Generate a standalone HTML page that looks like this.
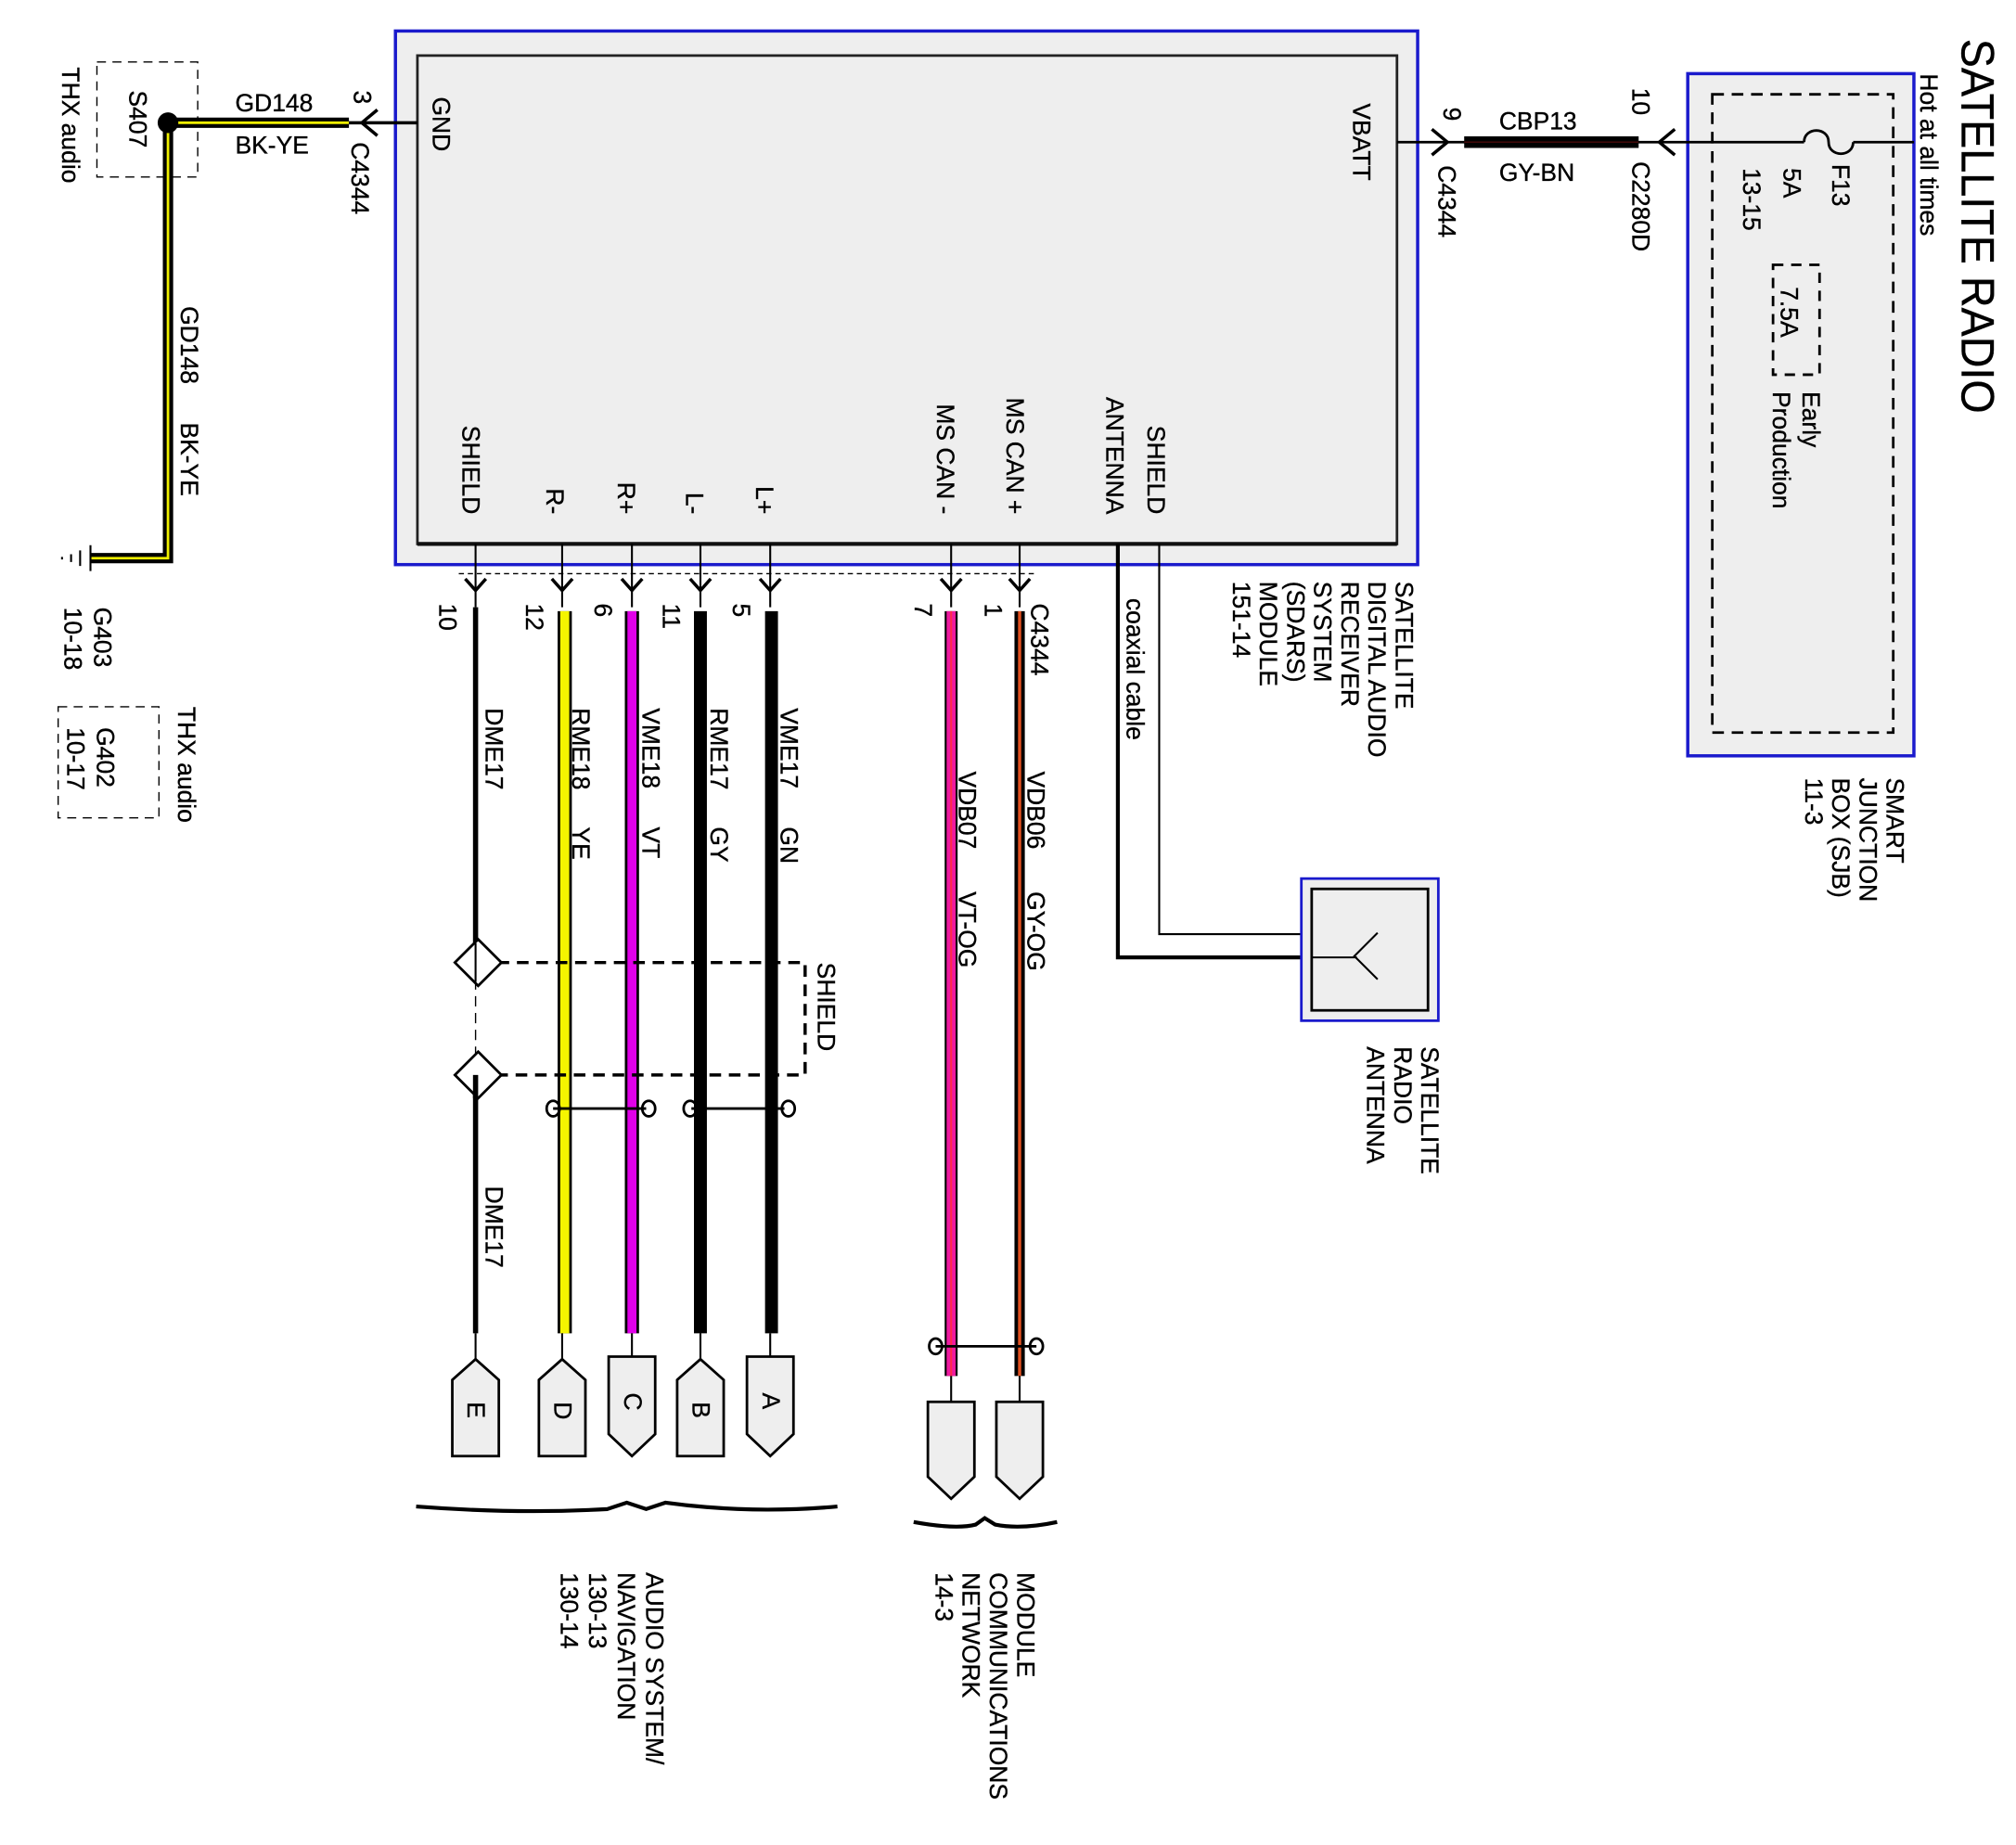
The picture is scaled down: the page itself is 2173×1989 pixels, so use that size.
<!DOCTYPE html>
<html><head><meta charset="utf-8"><style>html,body{margin:0;padding:0;background:#fff}svg{display:block}text{font-family:"Liberation Sans",sans-serif;fill:#000;stroke:#000;stroke-width:0.25}</style></head>
<body>
<svg width="2173" height="1989" viewBox="0 0 1560 1428" preserveAspectRatio="none" xmlns="http://www.w3.org/2000/svg">
<g font-size="19">
<!-- Module -->
<rect x="306" y="24" width="791" height="413" fill="#eee" stroke="#1a1acc" stroke-width="2.5"/>
<rect x="323" y="43" width="758" height="378" fill="#eee" stroke="#222" stroke-width="2"/>
<line x1="323" y1="421" x2="1081" y2="421" stroke="#111" stroke-width="3"/>
<text transform="translate(335,75) rotate(90)">GND</text>
<text transform="translate(1047,80) rotate(90)">VBATT</text>
<g text-anchor="end">
<text transform="translate(358,398) rotate(90)">SHIELD</text>
<text transform="translate(423,398) rotate(90)">R-</text>
<text transform="translate(478,398) rotate(90)">R+</text>
<text transform="translate(531,398) rotate(90)">L-</text>
<text transform="translate(585,398) rotate(90)">L+</text>
<text transform="translate(725,398) rotate(90)">MS CAN -</text>
<text transform="translate(779,398) rotate(90)">MS CAN +</text>
<text transform="translate(856,398) rotate(90)">ANTENNA</text>
<text transform="translate(888,398) rotate(90)">SHIELD</text>
</g>
<g>
<text transform="translate(1080,450) rotate(90)">SATELLITE</text>
<text transform="translate(1059,450) rotate(90)">DIGITAL AUDIO</text>
<text transform="translate(1038,450) rotate(90)">RECEIVER</text>
<text transform="translate(1017,450) rotate(90)">SYSTEM</text>
<text transform="translate(996,450) rotate(90)">(SDARS)</text>
<text transform="translate(975,450) rotate(90)">MODULE</text>
<text transform="translate(954,450) rotate(90)">151-14</text>
</g>

<!-- top-left ground -->
<rect x="75" y="48" width="78" height="89" fill="none" stroke="#000" stroke-dasharray="7,5"/>
<text transform="translate(100,70) rotate(90)">S407</text>
<text transform="translate(48,52) rotate(90)">THX audio</text>
<path d="M130,95 H270 M130,95 V432 H70" fill="none" stroke="#000" stroke-width="8"/>
<path d="M130,95 H270 M130,95 V432 H70" fill="none" stroke="#ee0" stroke-width="2"/>
<circle cx="130" cy="95" r="8" fill="#000"/>
<text x="182" y="86">GD148</text>
<text x="182" y="119">BK-YE</text>
<line x1="270" y1="95" x2="323" y2="95" stroke="#000" stroke-width="2.5"/>
<path d="M292,85 L280,95 L292,105" fill="none" stroke="#000" stroke-width="2.5"/>
<text transform="translate(274,70) rotate(90)">3</text>
<text transform="translate(272,110) rotate(90)">C4344</text>
<text transform="translate(140,237) rotate(90)">GD148</text>
<text transform="translate(140,327) rotate(90)">BK-YE</text>
<path d="M70,422 V442 M62,426 V438 M55,429 V435 M48,431 V433" stroke="#000" stroke-width="1.5"/>
<text transform="translate(73,470) rotate(90)">G403</text>
<text transform="translate(50,470) rotate(90)">10-18</text>
<rect x="45" y="547" width="78" height="86" fill="none" stroke="#000" stroke-dasharray="7,5"/>
<text transform="translate(75,563) rotate(90)">G402</text>
<text transform="translate(52,563) rotate(90)">10-17</text>
<text transform="translate(138,547) rotate(90)">THX audio</text>

<!-- bottom connector C4344 -->
<line x1="355" y1="444" x2="800" y2="444" stroke="#000" stroke-dasharray="4,3"/>
<g stroke="#000" stroke-width="1.5" fill="none">
<path d="M368,421V470 M435,421V470 M489,421V470 M542,421V470 M596,421V470 M736,421V470 M789,421V470"/>
<g stroke-width="2.5">
<path d="M360,448L368,457L376,448 M427,448L435,457L443,448 M481,448L489,457L497,448 M534,448L542,457L550,448 M588,448L596,457L604,448 M728,448L736,457L744,448 M781,448L789,457L797,448"/>
</g>
</g>
<text transform="translate(340,467) rotate(90)">10</text>
<text transform="translate(407,467) rotate(90)">12</text>
<text transform="translate(460,467) rotate(90)">6</text>
<text transform="translate(513,467) rotate(90)">11</text>
<text transform="translate(567,467) rotate(90)">5</text>
<text transform="translate(708,467) rotate(90)">7</text>
<text transform="translate(762,467) rotate(90)">1</text>
<text transform="translate(798,467) rotate(90)">C4344</text>

<!-- wires -->
<line x1="368" y1="470" x2="368" y2="745" stroke="#000" stroke-width="4"/>
<line x1="368" y1="832" x2="368" y2="1032" stroke="#000" stroke-width="4"/>
<line x1="368" y1="745" x2="368" y2="832" stroke="#000" stroke-width="1" stroke-dasharray="8,5"/>
<line x1="437" y1="473" x2="437" y2="1032" stroke="#000" stroke-width="11"/>
<line x1="437" y1="473" x2="437" y2="1032" stroke="#f5f500" stroke-width="7"/>
<line x1="489" y1="473" x2="489" y2="1032" stroke="#000" stroke-width="11"/>
<line x1="489" y1="473" x2="489" y2="1032" stroke="#e000e8" stroke-width="7"/>
<line x1="542" y1="473" x2="542" y2="1032" stroke="#000" stroke-width="10"/>
<line x1="597" y1="473" x2="597" y2="1032" stroke="#000" stroke-width="10"/>
<line x1="736" y1="473" x2="736" y2="1065" stroke="#000" stroke-width="10"/>
<line x1="736" y1="473" x2="736" y2="1065" stroke="#ee1aa0" stroke-width="7"/>
<line x1="736" y1="473" x2="736" y2="1065" stroke="#ff2a4a" stroke-width="1.5"/>
<line x1="789" y1="473" x2="789" y2="1065" stroke="#000" stroke-width="8"/>
<line x1="789" y1="473" x2="789" y2="1065" stroke="#e05020" stroke-width="2.5"/>

<text transform="translate(376,548) rotate(90)">DME17</text>
<text transform="translate(443,548) rotate(90)">RME18</text><text transform="translate(443,640) rotate(90)">YE</text>
<text transform="translate(497,548) rotate(90)">VME18</text><text transform="translate(497,640) rotate(90)">VT</text>
<text transform="translate(550,548) rotate(90)">RME17</text><text transform="translate(550,640) rotate(90)">GY</text>
<text transform="translate(604,548) rotate(90)">VME17</text><text transform="translate(604,640) rotate(90)">GN</text>
<text transform="translate(742,597) rotate(90)">VDB07</text><text transform="translate(742,690) rotate(90)">VT-OG</text>
<text transform="translate(795,597) rotate(90)">VDB06</text><text transform="translate(795,690) rotate(90)">GY-OG</text>
<text transform="translate(376,918) rotate(90)">DME17</text>

<!-- shield -->
<path d="M370,745 H623 V832 H370" fill="none" stroke="#000" stroke-width="2.5" stroke-dasharray="9,6"/>
<path d="M370,727 L388,745 L370,763 L352,745Z M370,814 L388,832 L370,850 L352,832Z" fill="#fff" stroke="#000" stroke-width="2"/>
<line x1="368" y1="730" x2="368" y2="760" stroke="#000" stroke-width="1.5"/>
<line x1="368" y1="832" x2="368" y2="850" stroke="#000" stroke-width="4"/>
<text transform="translate(633,745) rotate(90)">SHIELD</text>
<!-- twists -->
<g fill="none" stroke="#000" stroke-width="2">
<path d="M428,858 H500 M535,858 H607 M724,1042 H802"/>
<ellipse cx="428" cy="858" rx="5" ry="6"/><ellipse cx="502" cy="858" rx="5" ry="6"/>
<ellipse cx="534" cy="858" rx="5" ry="6"/><ellipse cx="610" cy="858" rx="5" ry="6"/>
<ellipse cx="724" cy="1042" rx="5" ry="6"/><ellipse cx="802" cy="1042" rx="5" ry="6"/>
</g>
<!-- tabs -->
<g stroke="#000" stroke-width="1.5"><path d="M368,1032V1052 M435,1032V1052 M489,1032V1050 M542,1032V1052 M596,1032V1050 M736,1065V1085 M789,1065V1085"/></g>
<g fill="#eee" stroke="#000" stroke-width="2">
<path d="M350,1068 L368,1052 L386,1068 V1127 H350Z"/>
<path d="M417,1068 L435,1052 L453,1068 V1127 H417Z"/>
<path d="M471,1050 H507 V1110 L489,1127 L471,1110Z"/>
<path d="M524,1068 L542,1052 L560,1068 V1127 H524Z"/>
<path d="M578,1050 H614 V1110 L596,1127 L578,1110Z"/>
<path d="M718,1085 H754 V1143 L736,1160 L718,1143Z"/>
<path d="M771,1085 H807 V1143 L789,1160 L771,1143Z"/>
</g>
<text transform="translate(362,1085) rotate(90)">E</text>
<text transform="translate(429,1085) rotate(90)">D</text>
<text transform="translate(483,1078) rotate(90)">C</text>
<text transform="translate(536,1085) rotate(90)">B</text>
<text transform="translate(590,1078) rotate(90)">A</text>
<!-- braces -->
<path d="M322,1166 Q400,1172 470,1168 L485,1163 L500,1168 L515,1163 Q580,1172 648,1166" fill="none" stroke="#000" stroke-width="3"/>
<path d="M707,1178 Q740,1184 755,1180 L762,1175 L770,1180 Q790,1184 818,1178" fill="none" stroke="#000" stroke-width="3"/>
<text transform="translate(500,1217) rotate(90)">AUDIO SYSTEM/</text>
<text transform="translate(478,1217) rotate(90)">NAVIGATION</text>
<text transform="translate(456,1217) rotate(90)">130-13</text>
<text transform="translate(434,1217) rotate(90)">130-14</text>
<text transform="translate(787,1217) rotate(90)">MODULE</text>
<text transform="translate(766,1217) rotate(90)">COMMUNICATIONS</text>
<text transform="translate(745,1217) rotate(90)">NETWORK</text>
<text transform="translate(724,1217) rotate(90)">14-3</text>

<!-- antenna -->
<path d="M865,421 V741 H1015" fill="none" stroke="#000" stroke-width="3"/>
<path d="M897,421 V723 H1015" fill="none" stroke="#000" stroke-width="1.5"/>
<text transform="translate(872,463) rotate(90)">coaxial cable</text>
<rect x="1007" y="680" width="106" height="110" fill="#eee" stroke="#1a1acc" stroke-width="2"/>
<rect x="1015" y="688" width="90" height="94" fill="#eee" stroke="#000" stroke-width="2"/>
<path d="M1015,741 H1050 M1066,722 L1048,740 L1066,758" fill="none" stroke="#000" stroke-width="1.5"/>
<text transform="translate(1100,810) rotate(90)">SATELLITE</text>
<text transform="translate(1079,810) rotate(90)">RADIO</text>
<text transform="translate(1058,810) rotate(90)">ANTENNA</text>

<!-- right side -->
<rect x="1306" y="57" width="175" height="528" fill="#eee" stroke="#1a1acc" stroke-width="2.5"/>
<rect x="1325" y="73" width="140" height="494" fill="none" stroke="#000" stroke-width="2" stroke-dasharray="9,6"/>
<line x1="1081" y1="110" x2="1396" y2="110" stroke="#000" stroke-width="2"/>
<line x1="1434" y1="110" x2="1481" y2="110" stroke="#000" stroke-width="2"/>
<path d="M1396,110 C1396,98 1415,98 1415,110 C1415,122 1434,122 1434,110" fill="none" stroke="#000" stroke-width="2"/>
<line x1="1133" y1="110" x2="1268" y2="110" stroke="#000" stroke-width="9"/>
<line x1="1133" y1="110" x2="1268" y2="110" stroke="#4a0a0a" stroke-width="1"/>
<path d="M1108,100 L1120,110 L1108,120 M1296,100 L1284,110 L1296,120" fill="none" stroke="#000" stroke-width="2.5"/>
<text x="1160" y="100">CBP13</text>
<text x="1160" y="140">GY-BN</text>
<text transform="translate(1117,83) rotate(90)">9</text>
<text transform="translate(1113,128) rotate(90)">C4344</text>
<text transform="translate(1263,68) rotate(90)">10</text>
<text transform="translate(1263,125) rotate(90)">C2280D</text>
<text transform="translate(1418,127) rotate(90)">F13</text>
<text transform="translate(1380,130) rotate(90)">5A</text>
<text transform="translate(1349,130) rotate(90)">13-15</text>
<rect x="1372" y="205" width="36" height="85" fill="none" stroke="#000" stroke-width="2" stroke-dasharray="8,6"/>
<text transform="translate(1378,222) rotate(90)">7.5A</text>
<text transform="translate(1395,303) rotate(90)">Early</text>
<text transform="translate(1372,303) rotate(90)">Production</text>
<text transform="translate(1486,57) rotate(90)">Hot at all times</text>
<text transform="translate(1518,30) rotate(90)" font-size="36" textLength="290" lengthAdjust="spacingAndGlyphs">SATELLITE RADIO</text>
<text transform="translate(1460,602) rotate(90)">SMART</text>
<text transform="translate(1439,602) rotate(90)">JUNCTION</text>
<text transform="translate(1418,602) rotate(90)">BOX (SJB)</text>
<text transform="translate(1397,602) rotate(90)">11-3</text>
</g>
</svg>
</body></html>
